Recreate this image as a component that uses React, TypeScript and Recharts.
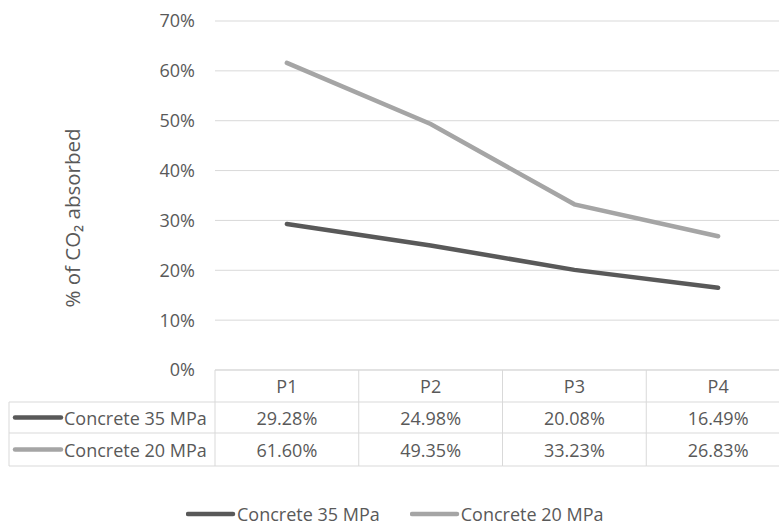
import React from 'react';
import { LineChart, Line, XAxis, YAxis, CartesianGrid } from 'recharts';

// values (percent)
const categories = ['P1', 'P2', 'P3', 'P4'];
const seriesNames = ['Concrete 35 MPa', 'Concrete 20 MPa'];
const concrete35 = [29.28, 24.98, 20.08, 16.49];
const concrete20 = [61.6, 49.35, 33.23, 26.83];
const yTicks = [0, 10, 20, 30, 40, 50, 60, 70];

const COLORS = ['#595959', '#A5A5A5'];
const TEXT = '#595959';
const GRID = '#D9D9D9';
const FONT = '"Open Sans", sans-serif';
const FS = 18;

const data = categories.map((c, i) => ({ name: c, s35: concrete35[i], s20: concrete20[i] }));
const seriesValues = [concrete35, concrete20];

// data table geometry (Excel-style table under the axis)
const BAND = 143.75;
const ROW_TOP = [0, 32, 63];
const ROW_H = [32, 31, 33];
const TABLE_LEFT = 9;

const TableTick = (props: any) => {
    const { x, y, payload, index } = props;
    const left = x - BAND / 2;
    const right = x + BAND / 2;
    const bottom = y + ROW_TOP[2] + ROW_H[2];
    return (
        <g>
            {/* column border */}
            <line x1={left} x2={left} y1={y} y2={bottom} stroke={GRID} />
            {index === categories.length - 1 && <line x1={right} x2={right} y1={y} y2={bottom} stroke={GRID} />}
            {[1, 2].map(r => (
                <line key={r} x1={left} x2={right} y1={y + ROW_TOP[r]} y2={y + ROW_TOP[r]} stroke={GRID} />
            ))}
            <line x1={left} x2={right} y1={bottom} y2={bottom} stroke={GRID} />
            <text x={x} y={y + ROW_H[0] / 2} textAnchor="middle" dominantBaseline="central" fill={TEXT} fontSize={FS} fontFamily={FONT}>
                {payload.value}
            </text>
            {seriesValues.map((vals, r) => (
                <text key={r} x={x} y={y + ROW_TOP[r + 1] + ROW_H[r + 1] / 2} textAnchor="middle" dominantBaseline="central" fill={TEXT} fontSize={FS} fontFamily={FONT}>
                    {vals[index].toFixed(2)}%
                </text>
            ))}
            {/* series key column, drawn once */}
            {index === 0 && (
                <g>
                    <line x1={TABLE_LEFT} x2={TABLE_LEFT} y1={y + ROW_TOP[1]} y2={bottom} stroke={GRID} />
                    {[1, 2].map(r => (
                        <line key={r} x1={TABLE_LEFT} x2={left} y1={y + ROW_TOP[r]} y2={y + ROW_TOP[r]} stroke={GRID} />
                    ))}
                    <line x1={TABLE_LEFT} x2={left} y1={bottom} y2={bottom} stroke={GRID} />
                    {seriesNames.map((n, r) => {
                        const cy = y + ROW_TOP[r + 1] + ROW_H[r + 1] / 2;
                        return (
                            <g key={n}>
                                <line x1={15} x2={61} y1={cy} y2={cy} stroke={COLORS[r]} strokeWidth={4.5} strokeLinecap="round" />
                                <text x={64} y={cy} dominantBaseline="central" fill={TEXT} fontSize={FS} fontFamily={FONT}>{n}</text>
                            </g>
                        );
                    })}
                </g>
            )}
        </g>
    );
};

const AxisTitle = () => (
    <text x={72} y={218} transform="rotate(-90 72 218)" textAnchor="middle" dominantBaseline="central" fill={TEXT} fontSize={20.5} fontFamily={FONT}>
        % of CO₂ absorbed
    </text>
);

export default function App() {
    return (
        <div style={{ position: 'fixed', left: 0, top: 0, width: 779, height: 528, overflow: 'hidden', background: '#fff', fontFamily: FONT }}>
            <LineChart width={795} height={528} data={data} margin={{ top: 21, right: 5, bottom: 58, left: 155 }}>
                <CartesianGrid vertical={false} stroke={GRID} />
                <XAxis
                    dataKey="name"
                    padding={{ left: BAND / 2, right: BAND / 2 }}
                    axisLine={{ stroke: GRID }}
                    tickLine={false}
                    tickSize={0}
                    tickMargin={0}
                    height={100}
                    interval={0}
                    tick={<TableTick />}
                />
                <YAxis
                    width={60}
                    domain={[0, 70]}
                    ticks={yTicks}
                    axisLine={false}
                    tickLine={false}
                    tickSize={0}
                    tickMargin={20}
                    tickFormatter={(v: number) => `${v}%`}
                    tick={{ fill: TEXT, fontSize: FS, fontFamily: FONT }}
                    label={<AxisTitle />}
                />
                <Line dataKey="s35" name={seriesNames[0]} stroke={COLORS[0]} strokeWidth={4.5} strokeLinecap="round" dot={false} isAnimationActive={false} />
                <Line dataKey="s20" name={seriesNames[1]} stroke={COLORS[1]} strokeWidth={4.5} strokeLinecap="round" dot={false} isAnimationActive={false} />
            </LineChart>
            {/* legend */}
            <div style={{ position: 'absolute', top: 502, left: 186, display: 'flex', alignItems: 'center', color: TEXT, fontSize: FS, lineHeight: '24px', height: 24 }}>
                {seriesNames.map((n, i) => (
                    <div key={n} style={{ display: 'flex', alignItems: 'center', marginRight: i === 0 ? 30 : 0 }}>
                        <svg width={50} height={10}>
                            <line x1={2} x2={47} y1={5} y2={5} stroke={COLORS[i]} strokeWidth={4.5} strokeLinecap="round" />
                        </svg>
                        <span style={{ marginLeft: 1 }}>{n}</span>
                    </div>
                ))}
            </div>
        </div>
    );
}
